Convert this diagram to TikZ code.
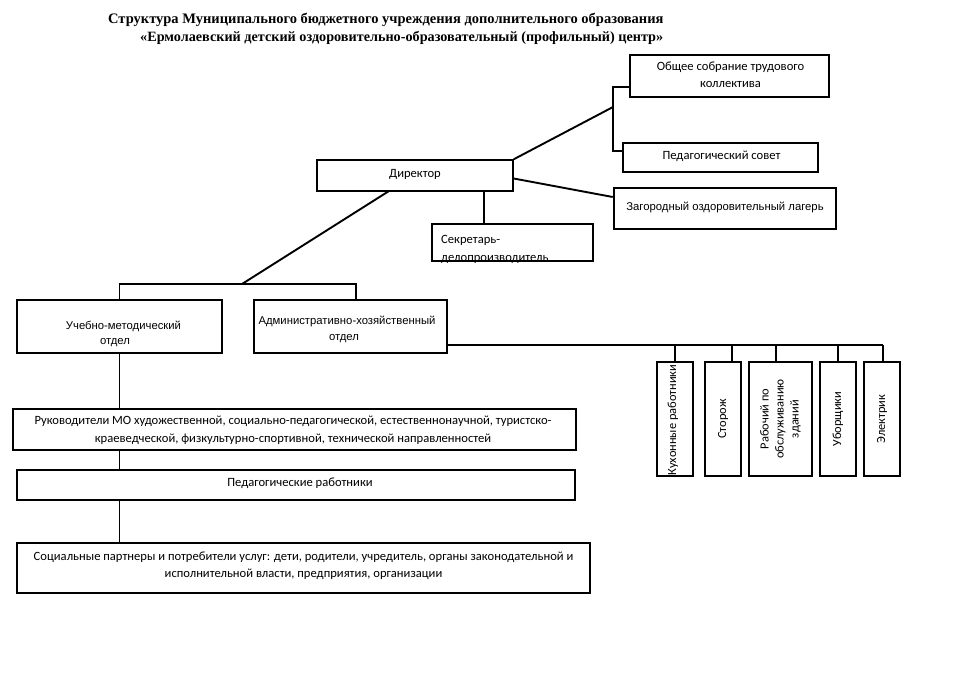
\documentclass[tikz,border=0pt]{standalone}
\usepackage{fontspec}
\setmainfont{Carlito}
\newfontfamily\titlefont{Liberation Serif}
\newfontfamily\arialfont{Liberation Sans}
\begin{document}
\begin{tikzpicture}[x=1pt,y=-1pt,
  box/.style={draw, line width=1.4pt, inner sep=0pt},
  thickbox/.style={box, line width=2.6pt},
  txt/.style={font=\fontsize{12.6}{17.5}\selectfont, align=center, inner sep=0pt},
  atxt/.style={txt, font=\arialfont\fontsize{11.3}{15.5}\selectfont},
  vtxt/.style={txt, rotate=90, font=\fontsize{12.4}{15}\selectfont},
  conn/.style={line width=1.4pt},
  diag/.style={line width=1.9pt},
  ttl/.style={font=\titlefont\bfseries\fontsize{14.5}{17}\selectfont, anchor=west, inner sep=0pt}]
\useasboundingbox[fill=white] (0,0) rectangle (960,679);

\node[ttl] (t1) at (108,20) {Структура Муниципального бюджетного учреждения дополнительного образования};
\node[ttl, font=\titlefont\bfseries\fontsize{14.2}{17}\selectfont] (t2) at (140,38) {«Ермолаевский детский оздоровительно-образовательный (профильный) центр»};

\node[box, minimum width=199pt, minimum height=42pt,
  label={[txt, yshift=1pt, xshift=1pt]center:Общее собрание трудового\\коллектива}] (A) at (729.5,76) {};
\node[box, minimum width=195pt, minimum height=29pt,
  label={[txt, xshift=1pt, yshift=1pt]center:Педагогический совет}] (B) at (720.5,157.5) {};
\node[box, minimum width=196pt, minimum height=31pt,
  label={[txt, yshift=1.5pt]center:Директор}] (dir) at (415,175.5) {};
\node[thickbox, minimum width=222pt, minimum height=41pt,
  label={[atxt, yshift=1pt]center:Загородный оздоровительный лагерь}] (Z) at (725,208.5) {};
\node[box, minimum width=161pt, minimum height=37pt] (sec) at (512.5,242.5) {};
\begin{scope}
  \clip ([xshift=1pt,yshift=-0.7pt]sec.south west) rectangle ([xshift=-1pt,yshift=0.7pt]sec.north east);
  \node[txt, anchor=west, align=left, font=\fontsize{12.6}{18}\selectfont] (sect) at (441,249) {Секретарь-\\делопроизводитель};
\end{scope}

\node[box, minimum width=205pt, minimum height=53pt,
  label={[atxt, yshift=-7.5pt, xshift=4pt]center:Учебно-методический\\отдел\hspace*{17pt}}] (UM) at (119.5,326.5) {};
\node[box, minimum width=193pt, minimum height=53pt,
  label={[atxt, yshift=-3pt, xshift=-3.5pt]center:Административно-хозяйственный\\отдел\hspace*{6pt}}] (AH) at (350.5,326.5) {};

\node[thickbox, minimum width=36pt, minimum height=114pt,
  label={[vtxt, xshift=-1pt, yshift=2pt]center:Кухонные работники}] (K) at (675,419) {};
\node[box, minimum width=36pt, minimum height=114pt,
  label={[vtxt]center:Сторож}] (S) at (723,419) {};
\node[box, minimum width=63pt, minimum height=114pt,
  label={[vtxt]center:Рабочий по\\обслуживанию\\зданий}] (R) at (780.5,419) {};
\node[box, minimum width=36pt, minimum height=114pt,
  label={[vtxt]center:Уборщики}] (U) at (838,419) {};
\node[box, minimum width=36pt, minimum height=114pt,
  label={[vtxt]center:Электрик}] (E) at (882,419) {};

\node[box, minimum width=563pt, minimum height=41pt,
  label={[txt, yshift=-1pt, xshift=-1.5pt]center:Руководители МО художественной, социально-педагогической, естественнонаучной, туристско-\\краеведческой, физкультурно-спортивной, технической направленностей}] (RMO) at (294.5,429.5) {};
\node[box, minimum width=558pt, minimum height=30pt,
  label={[txt, xshift=4pt, yshift=2pt]center:Педагогические работники}] (P) at (296,485) {};
\node[box, minimum width=573pt, minimum height=50pt,
  label={[txt, yshift=2.5pt]center:Социальные партнеры и потребители услуг: дети, родители, учредитель, органы законодательной и\\исполнительной власти, предприятия, организации}] (Soc) at (303.5,568) {};

% connectors top right
\coordinate (j1) at (613,107);
\coordinate (jA) at (613,87);
\coordinate (jB) at (613,151);
\draw[diag] (dir.north east) -- (j1);
\draw[conn] (A.west |- jA) -- (jA) -- (jB) -- (B.west |- jB);
\draw[diag] ([yshift=-3pt]dir.east) -- ([yshift=11.5pt]Z.west);
\coordinate (s0) at (484,191);
\draw[conn] (s0) -- (s0 |- sec.north);

% director down to departments
\coordinate (j2) at (242,284);
\coordinate (dS) at (389,191);
\draw[diag] (dS) -- (j2);
\draw[conn] (UM.north) -- (UM.north |- j2) -- (356,284) -- (356,300);

% admin line to workers
\coordinate (h0) at (447,345);
\coordinate (h1) at (883,345);
\draw[conn] (h0) -- (h1);
\draw[line width=2pt] (K.north) -- (K.north |- h0);
\draw[conn] (732,345) -- (732,362);
\draw[conn] (776,345) -- (776,362);
\draw[conn] (838,345) -- (838,362);
\draw[conn] (h1) -- (883,362);

% left vertical chain
\draw[conn] (UM.south) -- (UM.south |- RMO.north);
\draw[conn] (UM.south |- RMO.south) -- (UM.south |- P.north);
\draw[conn] (UM.south |- P.south) -- (UM.south |- Soc.north);
\end{tikzpicture}
\end{document}
